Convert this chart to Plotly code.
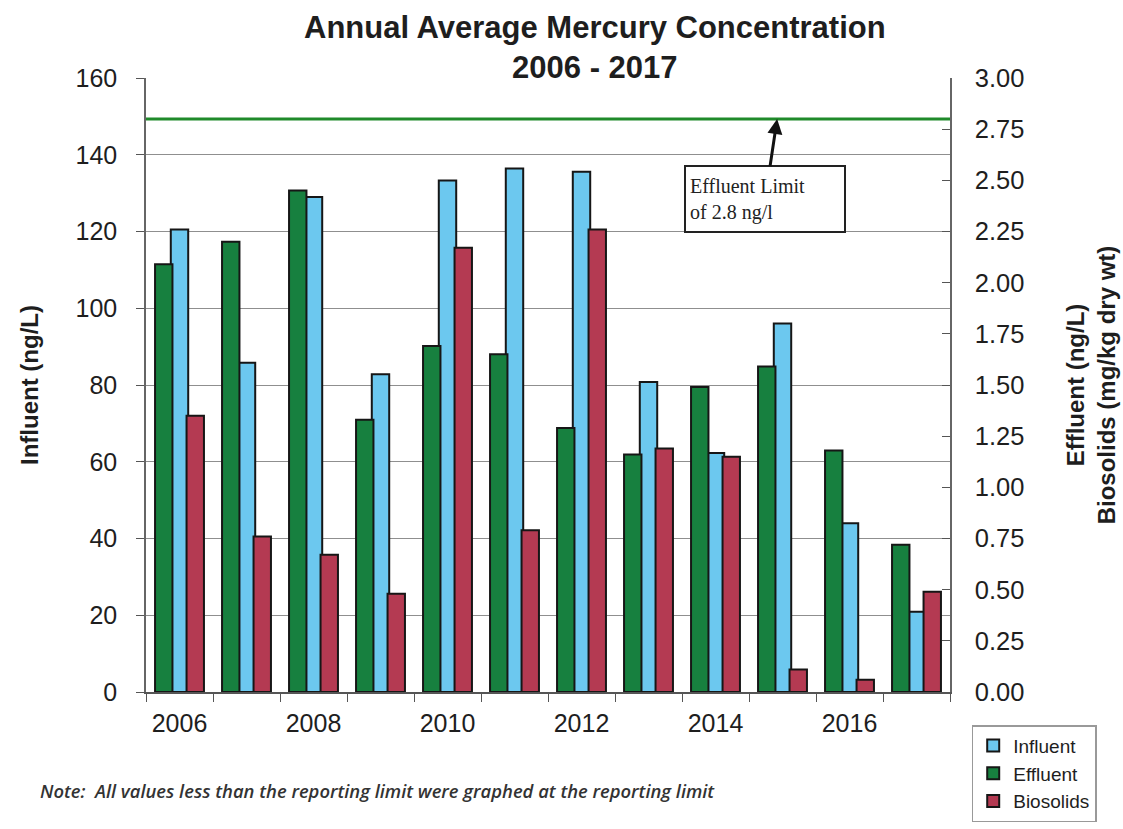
import plotly.graph_objects as go

years = [2006, 2007, 2008, 2009, 2010, 2011, 2012, 2013, 2014, 2015, 2016, 2017]
influent = [120.5, 85.8, 129.0, 82.8, 133.3, 136.4, 135.6, 80.8, 62.3, 96.0, 44.0, 20.9]
effluent = [2.09, 2.20, 2.45, 1.33, 1.69, 1.65, 1.29, 1.16, 1.49, 1.59, 1.18, 0.72]
biosolids = [1.35, 0.76, 0.67, 0.48, 2.17, 0.79, 2.26, 1.19, 1.15, 0.11, 0.06, 0.49]
effluent_limit = 2.8
year_labels = [2006, 2008, 2010, 2012, 2014, 2016]

C_GREEN = "#17803f"
C_BLUE = "#6cc8ef"
C_RED = "#b43a52"
OUTLINE = dict(color="#161616", width=2)
FONT = "Liberation Sans, Arial, sans-serif"
TXT = "#1e1e1e"

fig = go.Figure()
fig.add_trace(go.Bar(x=years, y=effluent, name="Effluent", yaxis="y2",
                     marker=dict(color=C_GREEN, line=OUTLINE), legendgroup="e",
                     width=0.26, offset=-0.365, legendrank=2))
fig.add_trace(go.Bar(x=years, y=influent, name="Influent", yaxis="y",
                     marker=dict(color=C_BLUE, line=OUTLINE), legendgroup="i",
                     width=0.26, offset=-0.13, legendrank=1))
fig.add_trace(go.Bar(x=years, y=biosolids, name="Biosolids", yaxis="y2",
                     marker=dict(color=C_RED, line=OUTLINE), legendgroup="b",
                     width=0.26, offset=0.105, legendrank=3))
fig.add_trace(go.Scatter(x=[2005.5, 2017.5], y=[effluent_limit, effluent_limit],
                         mode="lines", yaxis="y2", showlegend=False,
                         line=dict(color="#1f8a2a", width=3), hoverinfo="skip"))

fig.update_layout(
    width=1123, height=829,
    margin=dict(l=146, r=173, t=78, b=137, autoexpand=False),
    paper_bgcolor="white", plot_bgcolor="white",
    barmode="overlay",
    font=dict(family=FONT, color=TXT, size=25),
    xaxis=dict(range=[2005.5, 2017.5], tickmode="array", tickvals=year_labels,
               ticktext=[str(y) for y in year_labels], ticks="",
               ticklabelstandoff=8, automargin=False,
               minor=dict(ticks="outside", tick0=2005.5, dtick=1, ticklen=8,
                          tickcolor="#555", showgrid=False),
               showline=True, linecolor="#555", linewidth=1.5,
               tickfont=dict(size=25), showgrid=False, zeroline=False),
    yaxis=dict(range=[0, 160], dtick=20, ticks="outside", ticklen=8,
               tickcolor="#555", ticklabelstandoff=14, automargin=False,
               showline=True, linecolor="#666", linewidth=1.5,
               showgrid=True, gridcolor="#8f8f8f", gridwidth=1,
               zeroline=False, tickfont=dict(size=25),
               title=dict(text="<b>Influent (ng/L)</b>", font=dict(size=24), standoff=30)),
    yaxis2=dict(range=[0, 3], dtick=0.25, tickformat=".2f", overlaying="y", side="right",
                ticks="inside", ticklen=8, tickcolor="#555", ticklabelstandoff=18,
                automargin=False,
                showline=True, linecolor="#666", linewidth=1.5, showgrid=False,
                zeroline=False, tickfont=dict(size=25.5),
                title=dict(text="<b>Effluent (ng/L)<br>Biosolids (mg/kg dry wt)</b>",
                           font=dict(size=24), standoff=44)),
    legend=dict(x=1.027, y=-0.054, xanchor="left", yanchor="top",
                bordercolor="#999", borderwidth=1.5, bgcolor="white",
                font=dict(size=19), traceorder="normal", tracegroupgap=8),
    showlegend=True,
)

fig.add_annotation(x=0.558, y=1.049, xref="paper", yref="paper",
                   xanchor="center", yanchor="middle", showarrow=False,
                   text="<b>Annual Average Mercury Concentration<br>2006 - 2017</b>",
                   font=dict(size=31, family=FONT, color=TXT))

fig.add_annotation(x=2014.92, y=effluent_limit, xref="x", yref="y2",
                   text="Effluent Limit<br>of 2.8 ng/l", showarrow=True,
                   ax=-12, ay=80, arrowhead=2, arrowsize=1, arrowwidth=3,
                   arrowcolor="#111", align="left", width=150, height=56,
                   bordercolor="#222", borderwidth=2, borderpad=4, bgcolor="white",
                   font=dict(family="Liberation Serif, Times New Roman, serif",
                             size=20, color="#222"))

fig.add_annotation(x=-0.1343, y=-0.16, xref="paper", yref="paper", xanchor="left",
                   yanchor="middle",
                   text="<i>Note:  All values less than the reporting limit were graphed at the reporting limit</i>",
                   showarrow=False,
                   font=dict(family="Open Sans, sans-serif", size=18.4, weight=600, color="#333"))

fig.write_html("out.html", config={"displayModeBar": False},
               post_script="document.body.style.margin='0';")
